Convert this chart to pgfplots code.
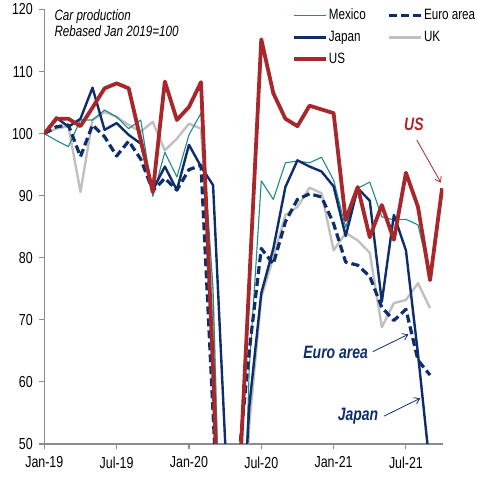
\documentclass[border=0pt]{standalone}
\usepackage{pgfplots}
\pgfplotsset{compat=1.18}
\usepackage{pgfplotstable}
\usepackage{fontspec}
\setmainfont{Liberation Sans}[FakeStretch=0.78]
\usetikzlibrary{arrows.meta}

\definecolor{mexc}{HTML}{1F8A8A}
\definecolor{navyc}{HTML}{0D2D6B}
\definecolor{ukc}{HTML}{C0C0C0}
\definecolor{usc}{HTML}{A8272B}
\definecolor{axc}{HTML}{8C8C8C}

% Car production, monthly, rebased Jan 2019 = 100 (month 0 = Jan-19)
\pgfplotstableread{
m  mex    jap    eur    uk     us
0  100.0  100.0  100.0  100.0  100.0
1  98.9   102.6  101.1  100.8  102.4
2  97.9   101.1  101.4  101.2  102.4
3  102.2  102.4  96.3   90.6   101.2
4  102.2  107.4  101.4  102.2  104.2
5  103.8  100.6  99.5   103.5  107.3
6  102.7  101.7  96.4   102.7  108.1
7  100.8  99.8   98.8   101.4  107.3
8  102.2  98.4   95.9   100.3  99.0
9  89.9   90.9   90.8   101.9  90.6
10 97.0   94.7   92.8   97.3   108.4
11 93.0   90.9   90.9   99.2   102.2
12 99.8   98.2   94.2   101.6  104.3
13 103.3  94.7   94.9   100.8  108.3
14 75.0   91.7   55.0   72.0   62.0
15 3.0    50.5   15.0   5.0    5.0
16 3.0    20.0   45.0   10.0   37.0
17 62.0   56.0   65.0   53.0   76.0
18 92.4   74.3   81.5   73.7   115.2
19 89.4   81.5   79.0   80.0   106.5
20 95.3   91.4   85.8   86.9   102.4
21 95.6   95.7   89.4   88.2   101.2
22 95.3   94.7   90.3   91.3   104.5
23 96.2   93.9   89.8   90.4   103.9
24 92.5   91.5   85.5   81.2   103.3
25 84.9   83.5   79.3   84.0   86.1
26 91.2   91.2   78.8   82.8   91.4
27 92.2   89.2   77.0   80.8   83.3
28 86.6   72.9   72.0   68.8   88.5
29 86.1   86.9   69.9   72.7   82.9
30 86.2   81.2   71.7   73.2   93.7
31 85.3   64.5   63.5   75.9   88.2
32 77.0   46.0   61.1   71.9   76.4
33 nan    nan    nan    nan    91.2
}\cars

\begin{document}
\begin{tikzpicture}
\useasboundingbox (-44.3bp,-37bp) rectangle (432.7bp,444bp);
\begin{axis}[
  scale only axis, width=399bp, height=434.5bp,
  xmin=0, xmax=33.1, ymin=50, ymax=120,
  axis x line*=bottom, axis y line*=left,
  x axis line style={-}, y axis line style={-},
  axis line style={draw=axc, line width=1.1bp},
  xtick={0,6,12,18,24,30},
  xticklabels={Jan-19,Jul-19,Jan-20,Jul-20,Jan-21,Jul-21},
  ytick={50,60,...,120},
  tick align=outside, major tick length=5bp,
  tick style={draw=axc, line width=1.1bp},
  ticklabel style={font=\fontsize{16}{18}\selectfont, text=black},
  /pgf/number format/assume math mode=true,
  yticklabel style={xshift=-3bp},
  xticklabel style={yshift=-4bp},
  line join=round,
  legend cell align=left,
  legend columns=2,
  legend image code/.code={\draw[#1] (0bp,0bp) -- (32bp,0bp);},
  legend style={draw=none, fill=none, inner sep=0pt, outer sep=0pt,
    at={(rel axis cs:0.621,1.005)}, anchor=north west,
    font=\fontsize{15}{17}\selectfont,
    nodes={inner sep=1bp, text height=11bp, text depth=3bp},
    /tikz/row sep=6bp,
    /tikz/every even column/.append style={column sep=21bp}},
]
% drawing order: grey and teal underneath, red on top
\addplot[ukc, line width=2.4bp, forget plot] table[x=m, y=uk] {\cars};
\addplot[mexc, line width=1.1bp, forget plot] table[x=m, y=mex] {\cars};
\addplot[navyc, line width=3.2bp, dash pattern=on 8bp off 4bp, forget plot] table[x=m, y=eur] {\cars};
\addplot[navyc, line width=2.4bp, forget plot] table[x=m, y=jap] {\cars};
\addplot[usc, line width=3.8bp, forget plot] table[x=m, y=us] {\cars};

\addlegendimage{mexc, line width=1.1bp}
\addlegendentry{Mexico}
\addlegendimage{navyc, line width=3.2bp, dash pattern=on 8bp off 4bp}
\addlegendentry{Euro area}
\addlegendimage{navyc, line width=2.4bp}
\addlegendentry{Japan}
\addlegendimage{ukc, line width=2.4bp}
\addlegendentry{UK}
\addlegendimage{usc, line width=3.8bp}
\addlegendentry{US}

\node[anchor=base west, inner sep=0pt, font=\fontsize{15}{17}\selectfont\itshape]
  at (axis cs:0.83,118.3) {Car production};
\node[anchor=base west, inner sep=0pt, font=\fontsize{15}{17}\selectfont\itshape]
  at (axis cs:0.83,115.57) {Rebased Jan 2019=100};

\node[font=\fontsize{18}{20}\selectfont\bfseries\itshape, text=usc, inner sep=0pt]
  at (axis cs:30.66,101.55) {US};
\draw[usc, line width=0.8bp, -{Straight Barb[length=5bp,width=7bp]}]
  (axis cs:30.9,98.98) -- (axis cs:32.9,92.1);

\node[font=\fontsize{18}{20}\selectfont\bfseries\itshape, text=navyc, inner sep=0pt]
  at (axis cs:24.17,64.7) {Euro area};
\draw[navyc, line width=0.8bp, -{Straight Barb[length=5bp,width=7bp]}]
  (axis cs:27.25,64.87) -- (axis cs:30.2,67.67);

\node[font=\fontsize{18}{20}\selectfont\bfseries\itshape, text=navyc, inner sep=0pt]
  at (axis cs:26.03,54.4) {Japan};
\draw[navyc, line width=0.8bp, -{Straight Barb[length=5bp,width=7bp]}]
  (axis cs:28.19,54.5) -- (axis cs:31.18,57.36);
\end{axis}
\end{tikzpicture}
\end{document}
